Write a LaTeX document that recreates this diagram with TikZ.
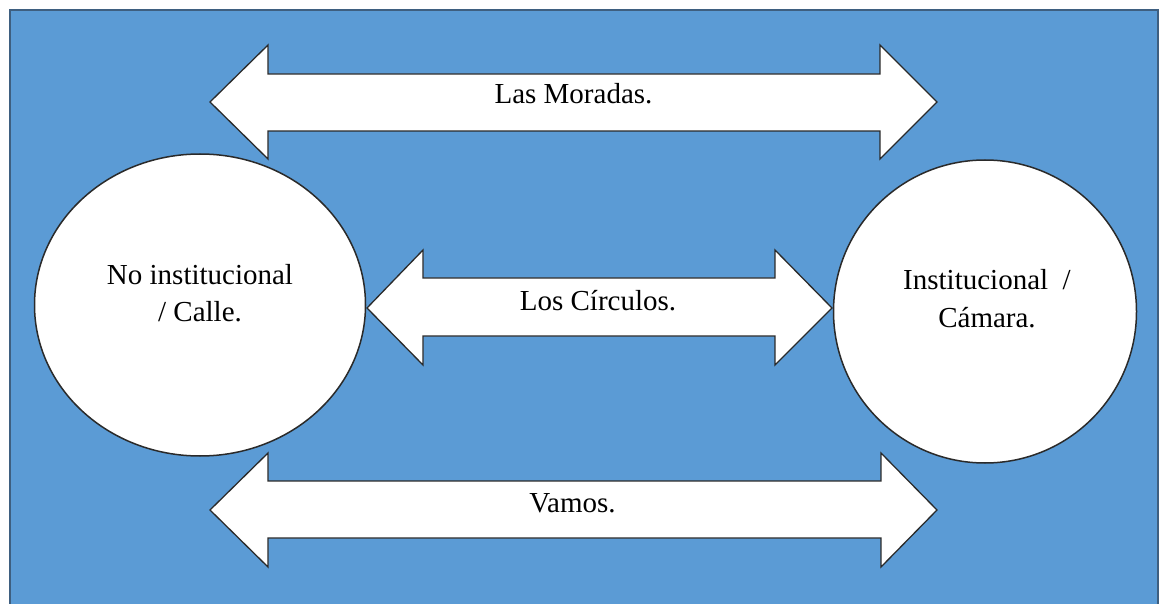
\documentclass[tikz,border=0pt]{standalone}
\usepackage{fontspec}
\setmainfont{Liberation Serif}
\usetikzlibrary{shapes.geometric}
\definecolor{bgblue}{HTML}{5B9BD5}
\definecolor{bgedge}{HTML}{3E5F80}
\definecolor{outl}{HTML}{2A2A2A}
\tikzset{
  arrowshape/.style={draw=outl, fill=white, line width=1.3pt, line join=miter},
  circ/.style={draw=outl, fill=white, ellipse, line width=1.5pt, inner sep=0pt},
  lbl/.style={font=\fontsize{29}{38}\selectfont, inner sep=0pt, text=black}
}
\begin{document}
\begin{tikzpicture}[x=1pt,y=-1pt]
\useasboundingbox (0,0) rectangle (1160,604);
\fill[white] (0,0) rectangle (1160,604);
\draw[draw=bgedge, fill=bgblue, line width=1.5pt] (10,10) rectangle (1158,640);

% circles
\node[circ, minimum width=331pt, minimum height=302pt] (left) at (200,305) {};
\node[circ, minimum width=303pt, minimum height=303pt] (right) at (985,311.5) {};

% top double arrow
\path[arrowshape] (210,102) -- (268,45) -- (268,74) -- (880,74) -- (880,45) -- (937,102)
  -- (880,159) -- (880,131) -- (268,131) -- (268,159) -- cycle;
% middle double arrow
\path[arrowshape] (367,308) -- (423,250) -- (423,278) -- (775,278) -- (775,250) -- (832,308)
  -- (775,365) -- (775,336) -- (423,336) -- (423,365) -- cycle;
% bottom double arrow
\path[arrowshape] (210,510) -- (268,453) -- (268,481) -- (881,481) -- (881,453) -- (937,510)
  -- (881,567) -- (881,538) -- (268,538) -- (268,567) -- cycle;

% labels
\node[lbl, anchor=base] (moradas) at (573.5,104) {Las Moradas.};
\node[lbl, anchor=base] (circulos) at (598,310) {Los Círculos.};
\node[lbl, anchor=base] (vamos) at (572.5,512) {Vamos.};

\node[lbl, anchor=base] (left1) at (200,284) {No institucional};
\node[lbl, anchor=base] (left2) at (200,322) {/ Calle.};
\node[lbl, anchor=base] (right1) at (987,290) {Institucional\ \ /};
\node[lbl, anchor=base] (right2) at (987,327) {Cámara.};
\end{tikzpicture}
\end{document}
